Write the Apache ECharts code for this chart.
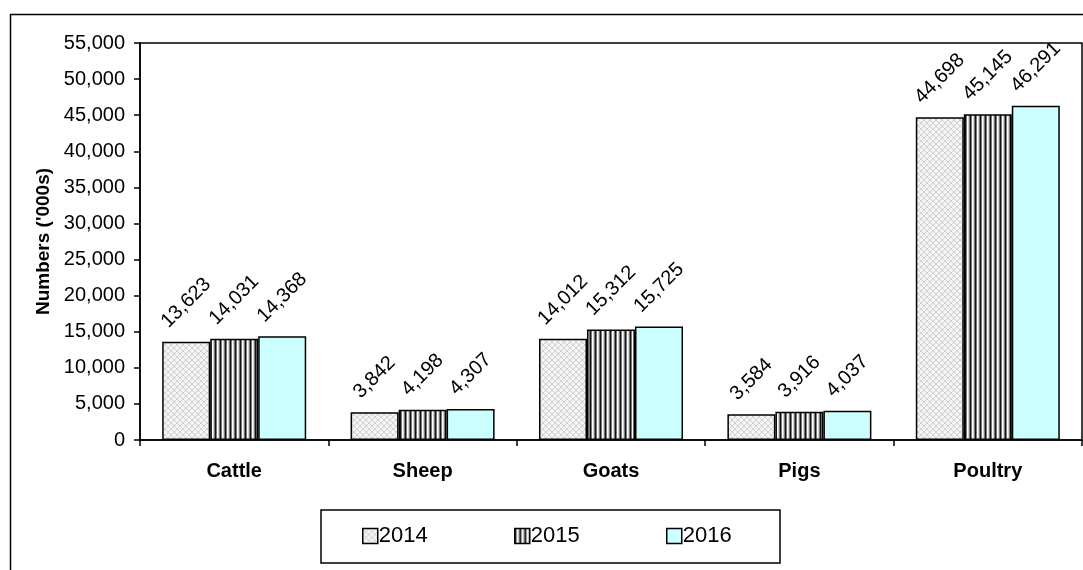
<!DOCTYPE html>
<html>
<head>
<meta charset="utf-8">
<script src="https://cdn.jsdelivr.net/npm/echarts@6/dist/echarts.min.js"></script>
<style>
html,body{margin:0;padding:0;background:#fff;}
#chart{width:1083px;height:570px;}
</style>
</head>
<body>
<div id="chart"></div>
<script>
var categories = ['Cattle', 'Sheep', 'Goats', 'Pigs', 'Poultry'];
var seriesNames = ['2014', '2015', '2016'];
var values2014 = [13623, 3842, 14012, 3584, 44698];
var values2015 = [14031, 4198, 15312, 3916, 45145];
var values2016 = [14368, 4307, 15725, 4037, 46291];
var yTicks = { min: 0, max: 55000, interval: 5000 };

var FONT = '"Liberation Sans", Arial, sans-serif';
var LABEL_SIZE = 20;

function makePattern(w, h, draw) {
  var c = document.createElement('canvas');
  c.width = w; c.height = h;
  var ctx = c.getContext('2d');
  draw(ctx, w, h);
  return { image: c, repeat: 'repeat' };
}
var pat2014 = makePattern(6, 6, function (ctx, w, h) {
  ctx.fillStyle = '#f2f2f2'; ctx.fillRect(0, 0, w, h);
  ctx.fillStyle = '#d2d2d2';
  for (var i = 0; i < 6; i++) {
    ctx.fillRect(i, i, 1, 1);
    ctx.fillRect(5 - i, i, 1, 1);
  }
  ctx.fillStyle = '#ffffff';
  ctx.fillRect(3, 0, 1, 1); ctx.fillRect(0, 3, 1, 1);
});
var pat2015 = makePattern(5, 4, function (ctx, w, h) {
  var cols = ['#141414', '#7a7a7a', '#ffffff', '#d4d4d4', '#7a7a7a'];
  for (var i = 0; i < cols.length; i++) { ctx.fillStyle = cols[i]; ctx.fillRect(i, 0, 1, h); }
});
var fill2016 = '#CCFFFF';
var fills = [pat2014, pat2015, fill2016];
var allValues = [values2014, values2015, values2016];

var measureCtx = document.createElement('canvas').getContext('2d');
measureCtx.font = LABEL_SIZE + 'px ' + FONT;
function fmt(v) { return v.toLocaleString('en-US'); }

function buildData(vals) {
  return vals.map(function (v) {
    var L = measureCtx.measureText(fmt(v)).width;
    return { value: v, label: { distance: 10 + (L + LABEL_SIZE) * 0.3536 } };
  });
}

var series = seriesNames.map(function (name, i) {
  return {
    name: name,
    type: 'bar',
    barWidth: 48,
    barGap: '0%',
    data: buildData(allValues[i]),
    itemStyle: { color: fills[i], borderColor: '#000', borderWidth: 1.5 },
    label: {
      show: true, position: 'top', rotate: 45, align: 'center', verticalAlign: 'middle',
      color: '#000', fontFamily: FONT, fontSize: LABEL_SIZE,
      formatter: function (p) { return fmt(p.value); }
    }
  };
});

var legendLefts = [362, 514, 666];
var legends = seriesNames.map(function (name, i) {
  return {
    left: legendLefts[i], top: 525, padding: 0,
    itemWidth: 15, itemHeight: 15, itemGap: 6,
    icon: 'rect',
    textStyle: { color: '#000', fontFamily: FONT, fontSize: 22, padding: [0, 0, 0, -4] },
    data: [{ name: name, itemStyle: { color: fills[i], borderColor: '#000', borderWidth: 1.5 } }]
  };
});

var chart = echarts.init(document.getElementById('chart'), null, { renderer: 'canvas' });
chart.setOption({
  animation: false,
  backgroundColor: '#fff',
  grid: { left: 140, top: 43, right: 1, bottom: 130, show: true, borderColor: '#000', borderWidth: 1.5 },
  legend: legends,
  graphic: [
    { type: 'rect', shape: { x: 10.5, y: 14.5, width: 1200, height: 700 }, style: { fill: null, stroke: '#000', lineWidth: 1.5 }, silent: true },
    { type: 'rect', shape: { x: 321, y: 510, width: 459, height: 53 }, style: { fill: null, stroke: '#000', lineWidth: 1.5 }, silent: true }
  ],
  xAxis: {
    type: 'category', data: categories,
    axisLine: { lineStyle: { color: '#000', width: 1.5 } },
    axisTick: { show: true, length: 6, lineStyle: { color: '#000', width: 1.5 } },
    axisLabel: { color: '#000', fontFamily: FONT, fontSize: 20, fontWeight: 'bold', margin: 21 },
    splitLine: { show: false }
  },
  yAxis: {
    type: 'value', min: yTicks.min, max: yTicks.max, interval: yTicks.interval,
    name: "Numbers ('000s)", nameLocation: 'middle', nameGap: 85,
    nameTextStyle: { color: '#000', fontFamily: FONT, fontSize: 19, fontWeight: 'bold' },
    axisLine: { show: true, lineStyle: { color: '#000', width: 1.5 } },
    axisTick: { show: true, length: 6, lineStyle: { color: '#000', width: 1.5 } },
    axisLabel: { color: '#000', fontFamily: FONT, fontSize: 20, margin: 15, formatter: function (v) { return fmt(v); } },
    splitLine: { show: false }
  },
  series: series
});
</script>
</body>
</html>
